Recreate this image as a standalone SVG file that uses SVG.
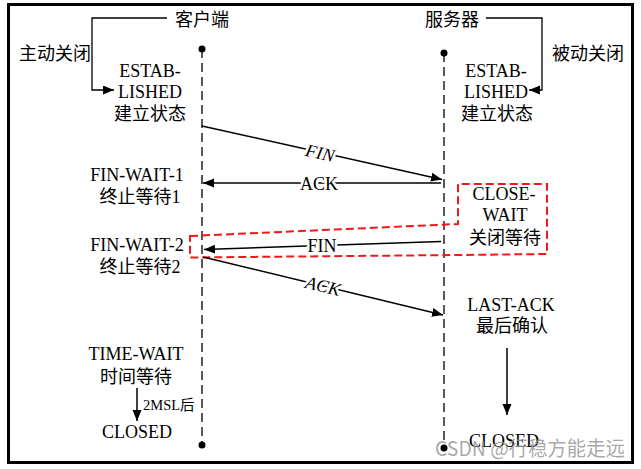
<svg xmlns="http://www.w3.org/2000/svg" width="641" height="469" viewBox="0 0 641 469">
<defs>
<style>
.t{font-family:"Liberation Serif","Noto Sans CJK SC",serif;font-size:18px;fill:#000;text-anchor:middle}
.s{font-family:"Liberation Serif","Noto Sans CJK SC",serif;font-size:14.5px;fill:#000}
.lbl{font-family:"Liberation Serif",serif;font-size:18px;fill:#000;text-anchor:middle;stroke:#fff;stroke-width:5px;paint-order:stroke;stroke-linejoin:round}
.life{stroke:#000;stroke-width:1.3;stroke-dasharray:9 5;fill:none}
.msg{stroke:#000;stroke-width:1.5;fill:none;marker-end:url(#ah)}
.br{stroke:#000;stroke-width:1.3;fill:none;marker-end:url(#ah)}
.red{stroke:#f01818;stroke-width:2;stroke-dasharray:8 4;fill:none}
</style>
<marker id="ah" markerUnits="userSpaceOnUse" markerWidth="12" markerHeight="10" refX="11" refY="4.5" orient="auto">
<path d="M0,0 L11,4.5 L0,9 z" fill="#000"/>
</marker>
</defs>
<rect x="8.5" y="4.5" width="624" height="458" fill="#fff" stroke="#000" stroke-width="3"/>

<g id="lifelines">
<line class="life" x1="202" y1="49" x2="202" y2="445"/>
<circle cx="202" cy="49" r="3.5" fill="#000"/>
<circle cx="202" cy="445" r="3.5" fill="#000"/>
<line class="life" x1="444" y1="53" x2="444" y2="448"/>
<circle cx="444" cy="53" r="3.5" fill="#000"/>
<circle cx="444" cy="448" r="3.5" fill="#000"/>
</g>

<g id="client-title"><text class="t" x="202" y="26">客户端</text></g>
<g id="server-title"><text class="t" x="452" y="26">服务器</text></g>
<g id="active-close"><text class="t" x="55" y="60">主动关闭</text></g>
<g id="passive-close"><text class="t" x="588" y="60">被动关闭</text></g>

<g id="client-established">
<text class="t" x="150" y="77">ESTAB-</text>
<text class="t" x="150" y="98">LISHED</text>
<text class="t" x="150" y="120">建立状态</text>
</g>
<g id="server-established">
<text class="t" x="496" y="77">ESTAB-</text>
<text class="t" x="496" y="98">LISHED</text>
<text class="t" x="497" y="120">建立状态</text>
</g>
<g id="fin-wait-1">
<text class="t" x="137" y="181">FIN-WAIT-1</text>
<text class="t" x="140" y="203">终止等待1</text>
</g>
<g id="fin-wait-2">
<text class="t" x="137" y="251">FIN-WAIT-2</text>
<text class="t" x="140" y="273">终止等待2</text>
</g>
<g id="close-wait">
<text class="t" x="504" y="200">CLOSE-</text>
<text class="t" x="505" y="221">WAIT</text>
<text class="t" x="505" y="244">关闭等待</text>
</g>
<g id="last-ack">
<text class="t" x="511" y="311">LAST-ACK</text>
<text class="t" x="512" y="332">最后确认</text>
</g>
<g id="time-wait">
<text class="t" x="136" y="360">TIME-WAIT</text>
<text class="t" x="136" y="383">时间等待</text>
</g>
<g id="client-closed"><text class="t" x="137" y="438">CLOSED</text></g>
<g id="server-closed"><text class="t" x="504" y="447">CLOSED</text></g>

<g id="highlight">
<path class="red" d="M190,236 L458,224 L458,184 L547,184 L547,254 L458,255 L190,257.5 Z"/>
</g>

<g id="connectors">
<polyline class="br" points="167,18 92,18 92,90 114,90"/>
<polyline class="br" points="486,18 542,18 542,90 529,90"/>
<line class="msg" x1="202" y1="126" x2="442" y2="179.5"/>
<text class="lbl" font-style="italic" transform="translate(320,153) rotate(12.5)" x="0" y="6">FIN</text>
<line class="msg" x1="441" y1="183" x2="203" y2="183"/>
<text class="lbl" x="319" y="190">ACK</text>
<line class="msg" x1="441" y1="241.5" x2="204" y2="249.5"/>
<text class="lbl" x="322" y="252">FIN</text>
<line class="msg" x1="203" y1="257" x2="443" y2="315"/>
<text class="lbl" font-style="italic" transform="translate(323,286) rotate(13.6)" x="0" y="6">ACK</text>
<line class="msg" x1="137" y1="388" x2="137" y2="421"/>
<text class="s" x="143" y="410">2MSL后</text>
<line class="msg" x1="507" y1="348" x2="507" y2="415"/>
</g>

<g id="watermark">
<text x="435" y="456" font-family="'Noto Sans CJK SC','Noto Sans',sans-serif" font-size="20" fill="#999" fill-opacity="0.85" textLength="190" lengthAdjust="spacingAndGlyphs">CSDN @行稳方能走远</text>
</g>
</svg>
